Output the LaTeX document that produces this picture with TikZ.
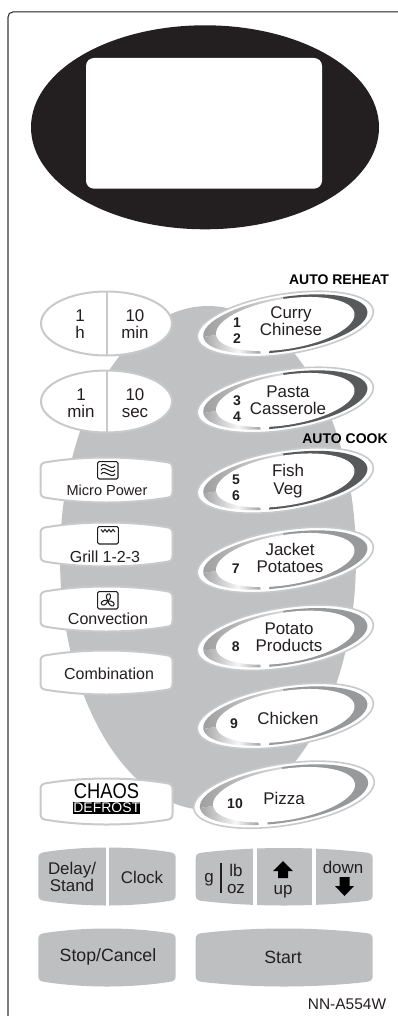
\documentclass[tikz,border=0pt]{standalone}
\usepackage{fontspec}
\setmainfont{Liberation Sans}

\definecolor{inkblack}{HTML}{231F20}
\definecolor{panelgrey}{HTML}{C0C1C3}
\definecolor{keygrey}{HTML}{BEBFC1}
\definecolor{keyedge}{HTML}{C8C9CB}
\definecolor{framegrey}{HTML}{7F7F7F}
\definecolor{banddark}{HTML}{58595B}
\definecolor{bandmid}{HTML}{98999B}
\definecolor{bandtip}{HTML}{969696}
\definecolor{bandtop}{HTML}{C4C4C4}
\definecolor{bandend}{HTML}{DCDCDC}

\tikzset{every picture/.style={line width=0.75pt}}
\tikzset{
  keytext/.style={inner sep=0.75pt,align=center,text=inkblack,font=\fontsize{12.7}{12.7}\selectfont},
  smalltext/.style={keytext,font=\fontsize{12}{12}\selectfont},
  numtext/.style={inner sep=0.75pt,align=center,text=inkblack,font=\fontsize{10.5}{12}\selectfont\bfseries},
  headtext/.style={inner sep=0.75pt,text=black,font=\fontsize{10.5}{12}\selectfont\bfseries},
  whitekey/.style={draw=keyedge,fill=white,line width=1.5pt},
  greykey/.style={fill=keygrey},
  slit/.style={draw=white,line width=2.4pt},
  icon/.style={draw=inkblack,line width=0.8pt}
}

% key with a slightly bulged top and bottom
\newcommand{\keypath}[4]{({#1},{#2+11}) .. controls ({#1},{#2+7}) and ({#1+2},{#2+5.5}) .. ({#1+7},{#2+5})
  .. controls ({#1+(#3-#1)/3},{#2-1}) and ({#3-(#3-#1)/3},{#2-1}) .. ({#3-7},{#2+5})
  .. controls ({#3-2},{#2+5.5}) and ({#3},{#2+7}) .. ({#3},{#2+11})
  -- ({#3},{#4-11}) .. controls ({#3},{#4-7}) and ({#3-2},{#4-5.5}) .. ({#3-7},{#4-5})
  .. controls ({#3-(#3-#1)/3},{#4+1}) and ({#1+(#3-#1)/3},{#4+1}) .. ({#1+7},{#4-5})
  .. controls ({#1+2},{#4-5.5}) and ({#1},{#4-7}) .. ({#1},{#4-11}) -- cycle}

% tilted oval key of the auto programmes
\newcommand{\autokey}[4]{%
  \begin{scope}[shift={(#1,#2)},rotate=-9,scale=#4]
    \draw [draw=keyedge,fill=white,line width=1.2pt] (0,0) ellipse (89 and 30);
    \begin{scope}
      \clip (0,0) ellipse (83 and 27);
      \fill [#3] (5,-40) -- (100,-40) -- (100,40) -- (-26,40) -- cycle;
      \shade [left color=bandtip,middle color=bandtop,right color=bandend] (-90,-40) rectangle (2,0);
      \shade [left color=bandtip,right color=white] (-90,0) rectangle (-50,40);
      \shade [left color=white,right color=bandmid] (-50,0) rectangle (-29,40);
    \end{scope}
    \fill [white] (0,0) ellipse (70 and 25);
  \end{scope}}

\begin{document}
\begin{tikzpicture}[x=0.75pt,y=0.75pt,yscale=-1,xscale=1]

\useasboundingbox (0,0) rectangle (398,1016);

\draw [framegrey,line width=1.1pt] (8,1016) -- (8,17);
\draw [draw=inkblack] (8,17) .. controls (8,14) and (10,12) .. (13,12) -- (398,12);

\fill [inkblack] (205,127.3) ellipse (174 and 102);
\fill [white,rounded corners=6] (86,58) rectangle (322,188.7);

\fill [panelgrey] (208,558) ellipse (148 and 252);

\draw [whitekey] (106.5,323.5) ellipse (65.5 and 32);
\draw [keyedge,line width=1.2pt] (107,291.5) -- (107,355.5);
\draw [whitekey] (106.5,401.5) ellipse (65.5 and 31);
\draw [keyedge,line width=1.2pt] (107,370.5) -- (107,432.5);

\draw [whitekey] \keypath{40.5}{457}{172.5}{503};
\draw [whitekey] \keypath{40.5}{522}{172.5}{567};
\draw [whitekey] \keypath{40.5}{586}{172.5}{632};
\draw [whitekey] \keypath{40.5}{650}{172.5}{695};
\draw [whitekey] \keypath{40.5}{778}{172.5}{825};

\foreach \keyy/\bandcol in {324/banddark,400/banddark,480.5/banddark,560/bandmid,637.7/bandmid,716/bandmid}{
  \autokey{285.3}{\keyy}{\bandcol}{1}
}
\autokey{284}{794.7}{bandmid}{1.025}

\fill [greykey] \keypath{38.3}{847}{175.7}{906};
\draw [slit] (107.3,840) -- (107.3,912);
\fill [greykey] \keypath{195.7}{847.5}{372.7}{906};
\draw [slit] (255,840) -- (255,912);
\draw [slit] (314,840) -- (314,912);
\fill [greykey] \keypath{38.3}{928}{175.7}{987};
\fill [greykey] \keypath{195.7}{928}{372.7}{987};

\draw (80,324) node (hourkey) [keytext] {1\\h};
\draw (135,324) node (tenminkey) [keytext] {10\\min};
\draw (81,403) node (minkey) [keytext] {1\\min};
\draw (135,403) node (tenseckey) [keytext] {10\\sec};

\draw [icon,rounded corners=1] (97.7,461.7) rectangle (118,479);
\foreach \wavey in {466,470,474}{
  \draw [icon] (101,\wavey) .. controls (103,{\wavey-3}) and (106,{\wavey-1}) .. (108,\wavey) .. controls (110,{\wavey+1}) and (113,{\wavey+3}) .. (115,\wavey);
}
\draw (107,490.7) node (micropower) [keytext,font=\fontsize{10.9}{12}\selectfont] {Micro Power};

\draw [icon,rounded corners=1] (97.7,526.7) rectangle (118.3,544);
\draw [icon] (101,529.5) -- (103,532) -- (105,529.5) -- (107,532) -- (109,529.5) -- (111,532) -- (113,529.5) -- (115,532);
\draw (105,556.7) node (grillkey) [smalltext] {Grill 1-2-3};

\draw [icon,rounded corners=1] (97.7,591.7) rectangle (118,609);
\foreach \fanangle in {270,30,150}{
  \draw [icon,rotate around={\fanangle:(108,601)}] (108,601) .. controls (110,603.5) and (113.5,604.5) .. (115,602.5) .. controls (116,599.5) and (112,598) .. (108,601);
}
\draw (108,619) node (convection) [smalltext] {Convection};

\draw (109,674) node (combination) [smalltext] {Combination};

\draw (106.5,791.5) node (chaos) [inner sep=0pt,text=black,xscale=0.86,font=\fontsize{16}{16}\selectfont] {CHAOS};
\draw (106.8,808) node (defrost) [fill=black,text=white,inner sep=0pt,minimum width=50.5pt,minimum height=9.6pt,font=\fontsize{10.5}{10.5}\selectfont] {DEFROST};

\draw (339,280) node (autoreheat) [headtext] {AUTO REHEAT};
\draw (345,439) node (autocook) [headtext] {AUTO COOK};

\draw (291,321) node (curry) [keytext] {Curry\\Chinese};
\draw (237,331) node (numcurry) [numtext] {1\\2};
\draw (288,400) node (pasta) [keytext] {Pasta\\Casserole};
\draw (237,409) node (numpasta) [numtext] {3\\4};
\draw (288,481) node (fish) [keytext,font=\fontsize{12.7}{14}\selectfont] {Fish\\Veg};
\draw (236,488) node (numfish) [numtext] {5\\6};
\draw (290,558) node (jacket) [keytext] {Jacket\\Potatoes};
\draw (235.7,569) node (numjacket) [numtext] {7};
\draw (289,637) node (potato) [keytext] {Potato\\Products};
\draw (235.7,647) node (numpotato) [numtext] {8};
\draw (288,718) node (chicken) [keytext] {Chicken};
\draw (234,724) node (numchicken) [numtext] {9};
\draw (284,798) node (pizza) [keytext] {Pizza};
\draw (235,804) node (numpizza) [numtext] {10};

\draw (72,877) node (delaykey) [keytext] {Delay/\\Stand};
\draw (142,877) node (clockkey) [keytext] {Clock};
\draw (209,880) node (gramkey) [keytext] {g};
\draw [inkblack,line width=0.9pt] (221,862.7) -- (221,893);
\draw (236,879) node (ozkey) [keytext] {lb\\oz};

\fill [black] (283,861) -- (293,871) -- (288,871) -- (288,878) -- (278,878) -- (278,871) -- (273,871) -- cycle;
\draw (283,892) node (upkey) [keytext] {up};
\draw (343,867) node (downkey) [keytext] {down};
\fill [black] (344.5,896) -- (354,886) -- (349.5,886) -- (349.5,877) -- (339.5,877) -- (339.5,886) -- (335,886) -- cycle;

\draw (108,956.7) node (stopkey) [keytext,font=\fontsize{13.3}{14}\selectfont] {Stop/Cancel};
\draw (283,957) node (startkey) [keytext,font=\fontsize{13.3}{14}\selectfont] {Start};

\draw (347,1004) node (modelname) [keytext,font=\fontsize{11.6}{12}\selectfont] {NN-A554W};

\end{tikzpicture}
\end{document}
